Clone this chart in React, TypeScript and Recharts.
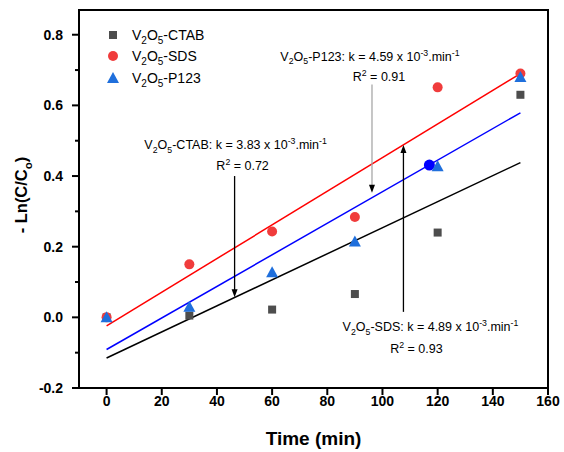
import React from 'react';
import { ComposedChart, Scatter, Line, XAxis, YAxis, ReferenceLine, ReferenceArea, Legend } from 'recharts';

// measured points
const times = [0, 30, 60, 90, 120, 150];
const ctabValues = [0, 0.005, 0.022, 0.066, 0.24, 0.63];
const sdsValues = [0, 0.15, 0.243, 0.284, 0.651, 0.69];
const p123Values = [0, 0.03, 0.128, 0.215, 0.428, 0.68];
const strayX = [117];
const strayY = [0.431];

// linear fits (end points)
const fitX = [0, 150];
const fitCtab = [-0.115, 0.438];
const fitSds = [-0.024, 0.69];
const fitP123 = [-0.091, 0.579];

const xTicks = [0, 20, 40, 60, 80, 100, 120, 140, 160];
const yTicks = [-0.2, -0.1, 0, 0.1, 0.2, 0.3, 0.4, 0.5, 0.6, 0.7, 0.8];

const annNames = ['CTAB', 'P123', 'SDS'];
const annK = ['3.83', '4.59', '4.89'];
const annR2 = ['0.72', '0.91', '0.93'];
const annX = [46.4, 96.2, 107.6];
const annFrom = [0.4, 0.659, 0.0155];
const annTo = [0.057, 0.353, 0.488];

const FONT = 'Arial, "Liberation Sans", sans-serif';
const C_CTAB = '#4d4d4d';
const C_SDS = '#f03c3c';
const C_P123 = '#1f6fdc';

const toPts = (xs: number[], ys: number[]) => xs.map((x, i) => ({ x, y: ys[i] }));

// text offsets relative to arrow start
const annLayout = [
  { dx1: 1, dy1: -27, dx2: 8, dy2: -6, line: '#000' },
  { dx1: -2, dy1: -24, dx2: 7, dy2: -4, line: '#a8a8a8' },
  { dx1: 27, dy1: 19, dx2: 13, dy2: 41, line: '#000' },
];

type Part = { t: string; s?: 'sub' | 'sup' };

const RichText = ({ parts, x, y, size, anchor = 'middle', weight = 'normal', transform }: any) => {
  let shift = 0;
  return (
    <text x={x} y={y} textAnchor={anchor} fontSize={size} fontFamily={FONT} fontWeight={weight} fill="#000" transform={transform}>
      {parts.map((p: Part, i: number) => {
        const target = p.s === 'sub' ? size * 0.3 : p.s === 'sup' ? -size * 0.4 : 0;
        const dy = target - shift;
        shift = target;
        return (
          <tspan key={i} dy={dy} fontSize={p.s ? size * 0.7 : size}>
            {p.t}
          </tspan>
        );
      })}
    </text>
  );
};

const kParts = (name: string, k: string): Part[] => [
  { t: 'V' }, { t: '2', s: 'sub' }, { t: 'O' }, { t: '5', s: 'sub' },
  { t: `-${name}: k = ${k} x 10` }, { t: '-3', s: 'sup' }, { t: '.min' }, { t: '-1', s: 'sup' },
];
const r2Parts = (r: string): Part[] => [{ t: 'R' }, { t: '2', s: 'sup' }, { t: ` = ${r}` }];

const arrowShape = (i: number) => (props: any) => {
  const { x1, y1, x2, y2 } = props;
  const dir = y2 > y1 ? 1 : -1;
  const lay = annLayout[i];
  return (
    <g>
      <line x1={x1} y1={y1} x2={x2} y2={y2 - dir * 6} stroke={lay.line} strokeWidth={1.3} />
      <polygon points={`${x2},${y2} ${x2 - 3},${y2 - dir * 8} ${x2 + 3},${y2 - dir * 8}`} fill="#000" />
      <RichText parts={kParts(annNames[i], annK[i])} x={x1 + lay.dx1} y={y1 + lay.dy1} size={12.5} />
      <RichText parts={r2Parts(annR2[i])} x={x1 + lay.dx2} y={y1 + lay.dy2} size={12.5} />
    </g>
  );
};

const Square = ({ cx, cy }: any) => <rect x={cx - 4} y={cy - 4} width={8} height={8} fill={C_CTAB} />;
const Circle = ({ cx, cy }: any) => <circle cx={cx} cy={cy} r={5} fill={C_SDS} />;
const Triangle = ({ cx, cy }: any) => (
  <polygon points={`${cx},${cy - 6} ${cx - 6},${cy + 5} ${cx + 6},${cy + 5}`} fill={C_P123} />
);
const BlueDot = ({ cx, cy }: any) => <circle cx={cx} cy={cy} r={5.5} fill="#0000ff" />;

const YTick = ({ x, y, payload }: any) => {
  const v = payload.value as number;
  const major = Math.round(v * 10) % 2 === 0;
  return (
    <g>
      <line x1={x - (major ? 7 : 4)} x2={x} y1={y} y2={y} stroke="#000" strokeWidth={2} />
      {major && (
        <text x={x - 16} y={y + 5} textAnchor="end" fontSize={14} fontWeight="bold" fontFamily={FONT} fill="#000">
          {v.toFixed(1)}
        </text>
      )}
    </g>
  );
};

const XTick = ({ x, y, payload }: any) => (
  <g>
    <line x1={x} x2={x} y1={y} y2={y + 7} stroke="#000" strokeWidth={2} />
    <text x={x} y={y + 18} textAnchor="middle" fontSize={14} fontWeight="bold" fontFamily={FONT} fill="#000">
      {payload.value}
    </text>
  </g>
);

const YLabel = ({ viewBox }: any) => {
  const cx = 27;
  const cy = viewBox.y + viewBox.height / 2 - 4;
  return (
    <RichText
      parts={[{ t: '- Ln(C/C' }, { t: 'o', s: 'sub' }, { t: ')' }]}
      x={cx}
      y={cy}
      size={16.5}
      weight="bold"
      transform={`rotate(-90 ${cx} ${cy})`}
    />
  );
};

const legendItems = [
  { name: 'CTAB', marker: 'square' },
  { name: 'SDS', marker: 'circle' },
  { name: 'P123', marker: 'triangle' },
];

const LegendBox = () => (
  <div style={{ fontFamily: FONT, fontSize: 14, color: '#000' }}>
    {legendItems.map((it) => (
      <div key={it.name} style={{ display: 'flex', alignItems: 'center', height: 21.5 }}>
        <svg width={14} height={14} style={{ marginRight: 12 }}>
          {it.marker === 'square' && <rect x={3} y={3} width={8} height={8} fill={C_CTAB} />}
          {it.marker === 'circle' && <circle cx={7} cy={7} r={5} fill={C_SDS} />}
          {it.marker === 'triangle' && <polygon points="7,1 1,12 13,12" fill={C_P123} />}
        </svg>
        <span>
          V<span style={{ fontSize: 10, position: 'relative', top: 4 }}>2</span>O
          <span style={{ fontSize: 10, position: 'relative', top: 4 }}>5</span>-{it.name}
        </span>
      </div>
    ))}
  </div>
);

export default function App() {
  return (
    <div style={{ position: 'absolute', left: 0, top: 0, background: '#fff' }}>
      <ComposedChart width={564} height={452} margin={{ top: 10, right: 16, left: 0, bottom: 0 }}>
        <XAxis
          dataKey="x"
          type="number"
          domain={[-10, 160]}
          ticks={xTicks}
          allowDataOverflow
          height={64}
          tickSize={0}
          tickMargin={0}
          tickLine={false}
          tick={<XTick />}
          axisLine={{ stroke: '#000', strokeWidth: 2 }}
          label={{
            value: 'Time (min)',
            position: 'insideBottom',
            offset: 7,
            style: { fontSize: 19, fontWeight: 'bold', fontFamily: FONT, fill: '#000' },
          }}
        />
        <YAxis
          dataKey="y"
          type="number"
          domain={[-0.2, 0.87]}
          ticks={yTicks}
          allowDataOverflow
          width={79}
          tickSize={0}
          tickMargin={0}
          tickLine={false}
          tick={<YTick />}
          axisLine={{ stroke: '#000', strokeWidth: 2 }}
          label={<YLabel />}
        />
        <ReferenceArea x1={-10} x2={160} y1={-0.2} y2={0.87} fill="none" stroke="#000" strokeWidth={2} />
        <Legend
          layout="vertical"
          align="center"
          verticalAlign="middle"
          wrapperStyle={{ left: 106, top: 24, width: 'auto' }}
          content={<LegendBox />}
        />
        <Line data={toPts(fitX, fitCtab)} dataKey="y" stroke="#000" strokeWidth={1.5} dot={false} legendType="none" isAnimationActive={false} />
        <Line data={toPts(fitX, fitSds)} dataKey="y" stroke="#ff0000" strokeWidth={1.5} dot={false} legendType="none" isAnimationActive={false} />
        <Line data={toPts(fitX, fitP123)} dataKey="y" stroke="#0000ff" strokeWidth={1.5} dot={false} legendType="none" isAnimationActive={false} />
        <Scatter data={toPts(times, ctabValues)} dataKey="y" shape={<Square />} isAnimationActive={false} />
        <Scatter data={toPts(times, sdsValues)} dataKey="y" shape={<Circle />} isAnimationActive={false} />
        <Scatter data={toPts(strayX, strayY)} dataKey="y" shape={<BlueDot />} isAnimationActive={false} />
        <Scatter data={toPts(times, p123Values)} dataKey="y" shape={<Triangle />} isAnimationActive={false} />
        {annX.map((ax, i) => (
          <ReferenceLine
            key={i}
            segment={[{ x: ax, y: annFrom[i] }, { x: ax, y: annTo[i] }]}
            shape={arrowShape(i)}
            ifOverflow="visible"
          />
        ))}
      </ComposedChart>
    </div>
  );
}
